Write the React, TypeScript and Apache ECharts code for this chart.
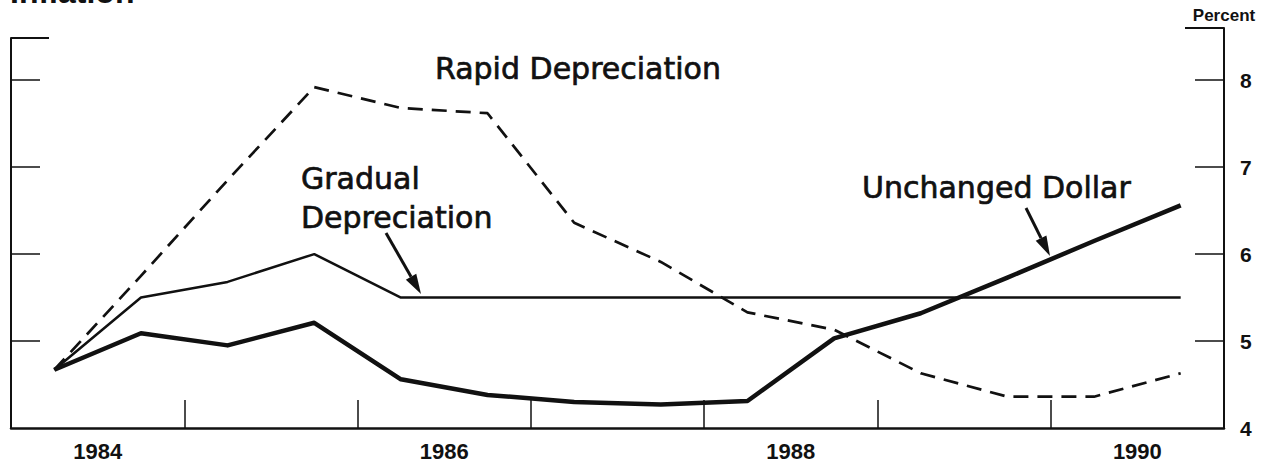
import React, { useEffect, useRef } from "react";
import * as echarts from "echarts";

const halfYears = [
  "1984 H1", "1984 H2", "1985 H1", "1985 H2", "1986 H1", "1986 H2", "1987 H1",
  "1987 H2", "1988 H1", "1988 H2", "1989 H1", "1989 H2", "1990 H1", "1990 H2",
];
const years = ["1984", "1985", "1986", "1987", "1988", "1989", "1990"];
const rapidDepreciation = [4.67, 5.75, 6.85, 7.92, 7.68, 7.62, 6.36, 5.91, 5.33, 5.13, 4.63, 4.36, 4.36, 4.63];
const gradualDepreciation = [4.67, 5.5, 5.68, 6.0, 5.5, 5.5, 5.5, 5.5, 5.5, 5.5, 5.5, 5.5, 5.5, 5.5];
const unchangedDollar = [4.67, 5.09, 4.95, 5.21, 4.56, 4.38, 4.3, 4.27, 4.31, 5.03, 5.32, 5.73, 6.15, 6.56];
const yLabelValues = [4, 5, 6, 7, 8];
const yTickValues = [5, 6, 7, 8];
const yMin = 4;
const yMaxRight = 8.6;
const yMaxLeft = 8.485;

const BLACK = "#111";
const SANS = "'Liberation Sans', Arial, sans-serif";
const DEJAVU = "'DejaVu Sans', sans-serif";

function arrowHead(tip: [number, number], from: [number, number], len: number, half: number) {
  const dx = tip[0] - from[0];
  const dy = tip[1] - from[1];
  const l = Math.sqrt(dx * dx + dy * dy);
  const ux = dx / l;
  const uy = dy / l;
  const bx = tip[0] - ux * len;
  const by = tip[1] - uy * len;
  const px = -uy * half;
  const py = ux * half;
  return {
    base: [bx, by],
    points: [tip, [bx + px, by + py], [bx - px, by - py]],
  };
}

export default function App() {
  const ref = useRef<HTMLDivElement>(null);

  useEffect(() => {
    if (!ref.current) return;
    const chart = echarts.init(ref.current, undefined, { renderer: "svg" });

    const gStart: [number, number] = [386, 233];
    const gTip: [number, number] = [421, 294];
    const uStart: [number, number] = [1026, 208];
    const uTip: [number, number] = [1050, 256];
    const gHead = arrowHead(gTip, gStart, 20, 6);
    const uHead = arrowHead(uTip, uStart, 20, 6);

    const noteStyle = (text: string) => ({
      text,
      fill: BLACK,
      stroke: BLACK,
      lineWidth: 0.7,
      font: `30px ${DEJAVU}`,
      verticalAlign: "middle",
      align: "left",
    });

    chart.setOption({
      animation: false,
      backgroundColor: "#fff",
      grid: [
        { left: 11, right: 52, top: 28, bottom: 35 },
        { left: 11, right: 52, top: 38, bottom: 35 },
      ],
      xAxis: [
        {
          gridIndex: 0,
          type: "category",
          data: years,
          position: "bottom",
          boundaryGap: true,
          axisLine: { show: true, lineStyle: { color: BLACK, width: 2.5 } },
          axisTick: { show: true, inside: true, length: 28, interval: 0, lineStyle: { color: BLACK, width: 1.5 } },
          axisLabel: {
            interval: 1,
            margin: 12,
            color: BLACK,
            fontFamily: SANS,
            fontWeight: "bold",
            fontSize: 22,
          },
          splitLine: { show: false },
          z: 5,
        },
        {
          gridIndex: 0,
          type: "category",
          data: halfYears,
          boundaryGap: true,
          show: false,
        },
        {
          gridIndex: 1,
          type: "category",
          data: years,
          show: false,
        },
      ],
      yAxis: [
        {
          gridIndex: 0,
          type: "value",
          position: "right",
          min: yMin,
          max: yMaxRight,
          name: "Percent",
          nameLocation: "end",
          nameGap: 4,
          nameTextStyle: { color: BLACK, fontFamily: SANS, fontWeight: "bold", fontSize: 17, align: "center" },
          axisLine: { show: true, lineStyle: { color: BLACK, width: 2 } },
          axisTick: { show: true, inside: true, length: 29, customValues: yTickValues, lineStyle: { color: BLACK, width: 1.5 } },
          axisLabel: {
            customValues: yLabelValues,
            margin: 16,
            color: BLACK,
            fontFamily: SANS,
            fontWeight: "bold",
            fontSize: 21,
          },
          splitLine: { show: false },
        },
        {
          gridIndex: 0,
          type: "value",
          position: "right",
          min: yMin,
          max: yMaxRight,
          axisLine: { show: false },
          axisTick: { show: true, inside: true, length: 39, customValues: [yMaxRight], lineStyle: { color: BLACK, width: 2 } },
          axisLabel: { show: false },
          splitLine: { show: false },
        },
        {
          gridIndex: 1,
          type: "value",
          position: "left",
          min: yMin,
          max: yMaxLeft,
          axisLine: { show: true, lineStyle: { color: BLACK, width: 2 } },
          axisTick: { show: true, inside: true, length: 29, customValues: yTickValues, lineStyle: { color: BLACK, width: 1.5 } },
          axisLabel: { show: false },
          splitLine: { show: false },
        },
        {
          gridIndex: 1,
          type: "value",
          position: "left",
          min: yMin,
          max: yMaxLeft,
          axisLine: { show: false },
          axisTick: { show: true, inside: true, length: 38, customValues: [yMaxLeft], lineStyle: { color: BLACK, width: 2 } },
          axisLabel: { show: false },
          splitLine: { show: false },
        },
      ],
      series: [
        {
          name: "Rapid Depreciation",
          type: "line",
          xAxisIndex: 1,
          yAxisIndex: 0,
          data: rapidDepreciation,
          symbol: "none",
          lineStyle: { color: BLACK, width: 2.7, type: [15, 9] },
        },
        {
          name: "Gradual Depreciation",
          type: "line",
          xAxisIndex: 1,
          yAxisIndex: 0,
          data: gradualDepreciation,
          symbol: "none",
          lineStyle: { color: BLACK, width: 2.5 },
        },
        {
          name: "Unchanged Dollar",
          type: "line",
          xAxisIndex: 1,
          yAxisIndex: 0,
          data: unchangedDollar,
          symbol: "none",
          lineStyle: { color: BLACK, width: 4.5, join: "round" },
        },
      ],
      graphic: [
        {
          type: "text",
          x: 10,
          y: -8,
          style: { text: "Inflation", fill: BLACK, font: `bold 32px ${SANS}`, verticalAlign: "middle", align: "left" },
        },
        { type: "text", x: 435, y: 68, style: noteStyle("Rapid Depreciation") },
        { type: "text", x: 301, y: 178, style: noteStyle("Gradual") },
        { type: "text", x: 301, y: 217, style: noteStyle("Depreciation") },
        { type: "text", x: 862, y: 187, style: noteStyle("Unchanged Dollar") },
        {
          type: "line",
          shape: { x1: gStart[0], y1: gStart[1], x2: gHead.base[0], y2: gHead.base[1] },
          style: { stroke: BLACK, lineWidth: 3 },
        },
        {
          type: "polygon",
          shape: { points: gHead.points },
          style: { fill: BLACK },
        },
        {
          type: "line",
          shape: { x1: uStart[0], y1: uStart[1], x2: uHead.base[0], y2: uHead.base[1] },
          style: { stroke: BLACK, lineWidth: 3 },
        },
        {
          type: "polygon",
          shape: { points: uHead.points },
          style: { fill: BLACK },
        },
      ],
    });

    return () => chart.dispose();
  }, []);

  return (
    <div
      ref={ref}
      style={{ position: "fixed", left: 0, top: 0, width: 1276, height: 463, background: "#fff" }}
    />
  );
}
